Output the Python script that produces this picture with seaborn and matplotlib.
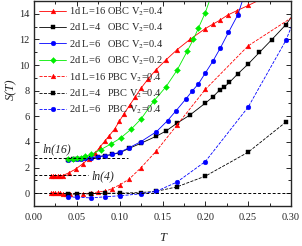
import numpy as np
import pandas as pd
import matplotlib
matplotlib.use('Agg')
import matplotlib.pyplot as plt
import seaborn as sns

# values
T_1d_obc = [0.020, 0.0225, 0.025, 0.0275, 0.030, 0.0333, 0.041, 0.049, 0.057, 0.064, 0.071,
            0.077, 0.083, 0.088, 0.094, 0.0995, 0.105, 0.112, 0.118, 0.125, 0.133, 0.142,
            0.154, 0.167, 0.182, 0.200, 0.209, 0.217, 0.226, 0.237, 0.250, 0.270]
S_1d_obc = [1.35, 1.35, 1.35, 1.35, 1.35, 1.37, 1.6, 1.9, 2.3, 2.7, 3.1,
            3.6, 4.1, 4.5, 5.0, 5.6, 6.2, 6.9, 7.5, 8.2, 8.9, 9.6,
            10.4, 11.2, 12.0, 12.85, 13.2, 13.5, 13.9, 14.25, 14.65, 15.3]

T_2d4_obc = [0.040, 0.045, 0.050, 0.055, 0.060, 0.0667, 0.075, 0.0833, 0.091, 0.100, 0.1111,
             0.125, 0.1429, 0.154, 0.1667, 0.182, 0.200, 0.2086, 0.217, 0.222, 0.228, 0.238,
             0.250, 0.263, 0.2775, 0.294, 0.310]
S_2d4_obc = [2.62, 2.63, 2.65, 2.68, 2.72, 2.77, 2.85, 2.93, 3.02, 3.15, 3.5,
             3.9, 4.45, 4.85, 5.45, 6.1, 7.03, 7.5, 8.07, 8.28, 8.64, 9.32,
             10.08, 10.98, 11.98, 13.15, 14.6]

T_2d6_obc = [0.040, 0.045, 0.050, 0.055, 0.060, 0.0667, 0.075, 0.0833, 0.091, 0.100, 0.1111,
             0.125, 0.1429, 0.156, 0.166, 0.1775, 0.185, 0.192, 0.200, 0.2086, 0.2175,
             0.227, 0.238, 0.250]
S_2d6_obc = [2.62, 2.64, 2.67, 2.7, 2.73, 2.78, 2.85, 2.93, 3.02, 3.2, 3.55,
             4.03, 4.8, 5.67, 6.45, 7.37, 8.0, 8.54, 9.38, 10.28, 11.33,
             12.55, 13.93, 16.4]

T_2d6_obc_v02 = [0.040, 0.045, 0.050, 0.055, 0.060, 0.0667, 0.078, 0.090, 0.101, 0.1135,
                 0.125, 0.140, 0.154, 0.167, 0.179, 0.186, 0.192, 0.200, 0.210]
S_2d6_obc_v02 = [2.68, 2.7, 2.72, 2.78, 2.87, 3.02, 3.4, 3.85, 4.3, 5.0,
                 5.8, 7.2, 8.3, 9.6, 11.1, 12.0, 12.9, 14.1, 16.0]

T_1d_pbc = [0.020, 0.0225, 0.025, 0.0275, 0.030, 0.0333, 0.0375, 0.0425, 0.050, 0.0575,
            0.0667, 0.075, 0.0833, 0.0909, 0.100, 0.1111, 0.125, 0.1429, 0.1667, 0.200,
            0.250, 0.310]
S_1d_pbc = [0.0, 0.0, 0.0, -0.02, -0.02, -0.03, -0.04, -0.05, -0.05, -0.03,
            0.0, 0.1, 0.15, 0.35, 0.65, 1.1, 2.0, 3.3, 5.3, 8.1,
            11.5, 14.1]

T_2d4_pbc = [0.040, 0.050, 0.0667, 0.0833, 0.100, 0.125, 0.1429, 0.1667, 0.200, 0.250, 0.294]
S_2d4_pbc = [-0.1, -0.05, -0.05, 0.0, 0.0, 0.05, 0.15, 0.49, 1.33, 3.2, 5.55]

T_2d6_pbc = [0.040, 0.050, 0.0667, 0.0833, 0.100, 0.125, 0.1429, 0.1667, 0.200, 0.250, 0.294, 0.310]
S_2d6_pbc = [-0.3, -0.31, -0.37, -0.28, -0.2, -0.05, 0.15, 0.86, 2.47, 6.72, 11.92, 14.6]

labels = ['1d L=16 OBC V$_2$=0.4', '2d L=4   OBC V$_2$=0.4', '2d L=6   OBC V$_2$=0.4',
          '2d L=6   OBC V$_2$=0.2', '1d L=16 PBC V$_2$=0.4', '2d L=4   PBC V$_2$=0.4',
          '2d L=6   PBC V$_2$=0.4']

series = [
    (T_1d_obc, S_1d_obc, '#ff0000', '^', '-'),
    (T_2d4_obc, S_2d4_obc, '#000000', 's', '-'),
    (T_2d6_obc, S_2d6_obc, '#0000ff', 'o', '-'),
    (T_2d6_obc_v02, S_2d6_obc_v02, '#00ee00', 'D', '-'),
    (T_1d_pbc, S_1d_pbc, '#ff0000', '^', '--'),
    (T_2d4_pbc, S_2d4_pbc, '#000000', 's', '--'),
    (T_2d6_pbc, S_2d6_pbc, '#0000ff', 'o', '--'),
]

sns.set_style('ticks')
plt.rcParams['font.family'] = ['Liberation Serif', 'DejaVu Serif']
plt.rcParams['mathtext.fontset'] = 'stix'

fig = plt.figure(figsize=(3.02, 2.46), dpi=100)
ax = fig.add_axes([0.1126, 0.1626, 0.851, 0.8334])

for (t, s, c, m, ls), lab in zip(series, labels):
    df = pd.DataFrame({'T': t, 'S': s})
    sizes = 3.4 if m != 'D' else 3.0
    sns.lineplot(data=df, x='T', y='S', ax=ax, color=c, marker=m, linestyle=ls,
                 linewidth=0.6, markersize=sizes, markeredgewidth=0.3,
                 markeredgecolor=c, label=lab, sort=False, estimator=None)

# reference levels
ax.plot([0, 0.30], [0, 0], color='k', linestyle='--', linewidth=0.7, dashes=(3, 2))
ax.plot([0, 0.11], [np.log(16)] * 2, color='k', linestyle='--', linewidth=0.7, dashes=(3, 2))
ax.plot([0, 0.063], [np.log(4)] * 2, color='k', linestyle='--', linewidth=0.7, dashes=(3, 2))
ax.text(0.0095, 3.4, 'ln(16)', fontsize=8.5, style='italic', va='center', ha='left')
ax.text(0.067, 1.3, 'ln(4)', fontsize=8.5, style='italic', va='center', ha='left')

ax.set_xlim(0, 0.30)
ax.set_ylim(-1, 15)
ax.set_xticks(np.arange(0, 0.301, 0.05))
ax.set_xticks(np.arange(0.025, 0.30, 0.05), minor=True)
ax.set_yticks(np.arange(0, 15, 2))
ax.set_yticks(np.arange(-1, 15, 1), minor=True)
ax.xaxis.set_major_formatter(matplotlib.ticker.FormatStrFormatter('%.2f'))
ax.tick_params(which='both', direction='in', top=True, right=True, width=0.7)
ax.tick_params(which='major', length=3.5, labelsize=7.5)
ax.tick_params(which='minor', length=2)
ax.tick_params(axis='x', pad=5)
ax.tick_params(axis='y', pad=3)
for sp in ax.spines.values():
    sp.set_linewidth(1.0)

ax.set_xlabel('T', fontsize=9, style='italic')
ax.set_ylabel('S(T)', fontsize=9, style='italic')
ax.xaxis.set_label_coords(0.5, -0.125)
ax.yaxis.set_label_coords(-0.065, 0.57)

ax.legend(loc='upper left', bbox_to_anchor=(-0.005, 1.01), frameon=False, fontsize=7.5,
          handlelength=2.6, handletextpad=0.3, labelspacing=0.38, borderaxespad=0.2)

fig.savefig('out.png', dpi=100)
